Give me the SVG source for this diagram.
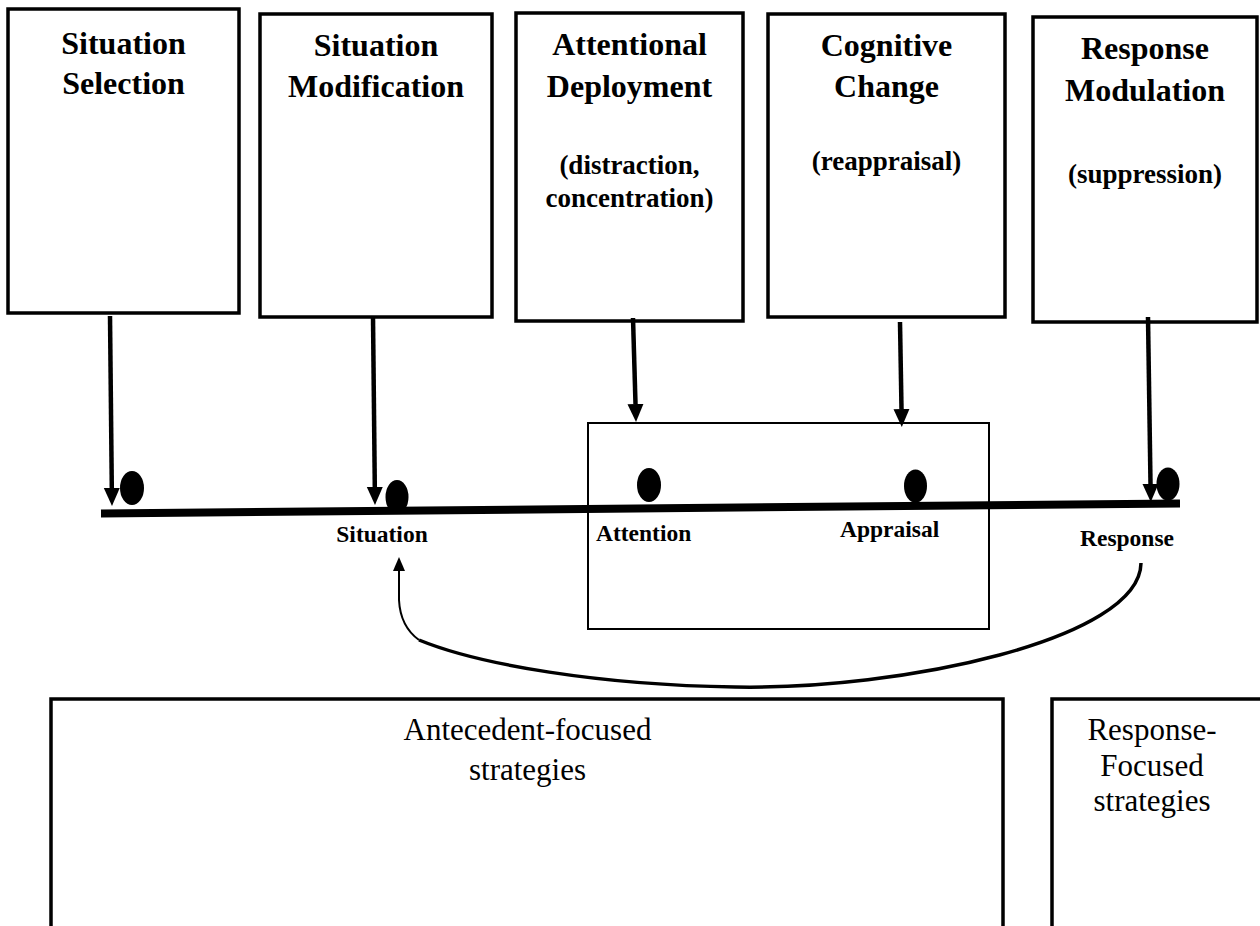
<svg xmlns="http://www.w3.org/2000/svg" width="1260" height="926" viewBox="0 0 1260 926">
  <style>
    .box { fill: #ffffff; stroke: #000000; stroke-width: 3.5; }
    .thin-box { fill: none; stroke: #000000; stroke-width: 2; }
    .title { font-family: "Liberation Serif", "Times New Roman", serif; font-weight: bold; font-size: 32px; fill: #000000; text-anchor: middle; }
    .sub { font-family: "Liberation Serif", "Times New Roman", serif; font-weight: bold; font-size: 27px; fill: #000000; text-anchor: middle; }
    .label { font-family: "Liberation Serif", "Times New Roman", serif; font-weight: bold; font-size: 23.5px; fill: #000000; }
    .plain { font-family: "Liberation Serif", "Times New Roman", serif; font-size: 31px; fill: #000000; text-anchor: middle; }
    .down { stroke: #000000; stroke-width: 4.5; fill: none; marker-end: url(#head); }
    .dot { fill: #000000; }
  </style>
  <defs>
    <marker id="head" markerUnits="userSpaceOnUse" markerWidth="18" markerHeight="18" refX="0" refY="9" orient="auto">
      <path d="M0,1 L18,9 L0,17 Z" fill="#000000"/>
    </marker>
    <marker id="head-small" markerUnits="userSpaceOnUse" markerWidth="14" markerHeight="12" refX="0" refY="6" orient="auto">
      <path d="M0,0 L14,6 L0,12 Z" fill="#000000"/>
    </marker>
  </defs>

  <rect width="1260" height="926" fill="#ffffff"/>

  <!-- strategy boxes along the top -->
  <g id="situation-selection">
    <rect class="box" x="8" y="9" width="231" height="304"/>
    <text class="title" x="123.5" y="54">Situation</text>
    <text class="title" x="123.5" y="94">Selection</text>
  </g>
  <g id="situation-modification">
    <rect class="box" x="260" y="14" width="232" height="303"/>
    <text class="title" x="376" y="56">Situation</text>
    <text class="title" x="376" y="97">Modification</text>
  </g>
  <g id="attentional-deployment">
    <rect class="box" x="516" y="13" width="227" height="308"/>
    <text class="title" x="629.5" y="55">Attentional</text>
    <text class="title" x="629.5" y="97">Deployment</text>
    <text class="sub" x="629.5" y="174">(distraction,</text>
    <text class="sub" x="629.5" y="207">concentration)</text>
  </g>
  <g id="cognitive-change">
    <rect class="box" x="768" y="14" width="237" height="303"/>
    <text class="title" x="886.5" y="56">Cognitive</text>
    <text class="title" x="886.5" y="97">Change</text>
    <text class="sub" x="886.5" y="170">(reappraisal)</text>
  </g>
  <g id="response-modulation">
    <rect class="box" x="1033" y="17" width="224" height="305"/>
    <text class="title" x="1145" y="59">Response</text>
    <text class="title" x="1145" y="101">Modulation</text>
    <text class="sub" x="1145" y="183">(suppression)</text>
  </g>

  <!-- box around attention and appraisal -->
  <g id="attention-appraisal-frame">
    <rect class="thin-box" x="588" y="423" width="401" height="206"/>
  </g>

  <!-- timeline with its stages -->
  <g id="timeline">
    <line x1="101" y1="513.5" x2="1180" y2="503.5" stroke="#000000" stroke-width="8"/>
    <ellipse class="dot" cx="132" cy="488" rx="12" ry="17"/>
    <ellipse class="dot" cx="397" cy="497" rx="11.5" ry="17"/>
    <ellipse class="dot" cx="649" cy="485" rx="12" ry="17"/>
    <ellipse class="dot" cx="915.5" cy="486" rx="11.5" ry="16.5"/>
    <ellipse class="dot" cx="1168" cy="484" rx="11.5" ry="16.5"/>
  </g>
  <g id="stage-labels">
    <text class="label" x="382" y="542" text-anchor="middle">Situation</text>
    <text class="label" x="596" y="541">Attention</text>
    <text class="label" x="840" y="537">Appraisal</text>
    <text class="label" x="1080" y="546">Response</text>
  </g>

  <!-- connectors -->
  <g id="connectors">
    <line class="down" x1="110" y1="316" x2="111.8" y2="488"/>
    <line class="down" x1="373" y1="317" x2="374.8" y2="487"/>
    <line class="down" x1="633" y1="318" x2="635.5" y2="404"/>
    <line class="down" x1="900" y1="322" x2="901.5" y2="409"/>
    <line class="down" x1="1148" y1="317" x2="1150.5" y2="484"/>
    <path d="M1141,563 C1140,640 900,690 735,687 C600,685 480,665 419,640" fill="none" stroke="#000000" stroke-width="3.5"/>
    <path d="M419,640 C408,632 400,620 399,600 L399,571" fill="none" stroke="#000000" stroke-width="2" marker-end="url(#head-small)"/>
  </g>

  <!-- strategy groupings along the bottom -->
  <g id="antecedent-focused">
    <rect class="box" x="51" y="699" width="952" height="260"/>
    <text class="plain" x="527.5" y="740">Antecedent-focused</text>
    <text class="plain" x="527.5" y="780">strategies</text>
  </g>
  <g id="response-focused">
    <rect class="box" x="1052" y="699" width="220" height="260"/>
    <text class="plain" x="1152" y="740">Response-</text>
    <text class="plain" x="1152" y="776">Focused</text>
    <text class="plain" x="1152" y="811">strategies</text>
  </g>
</svg>
